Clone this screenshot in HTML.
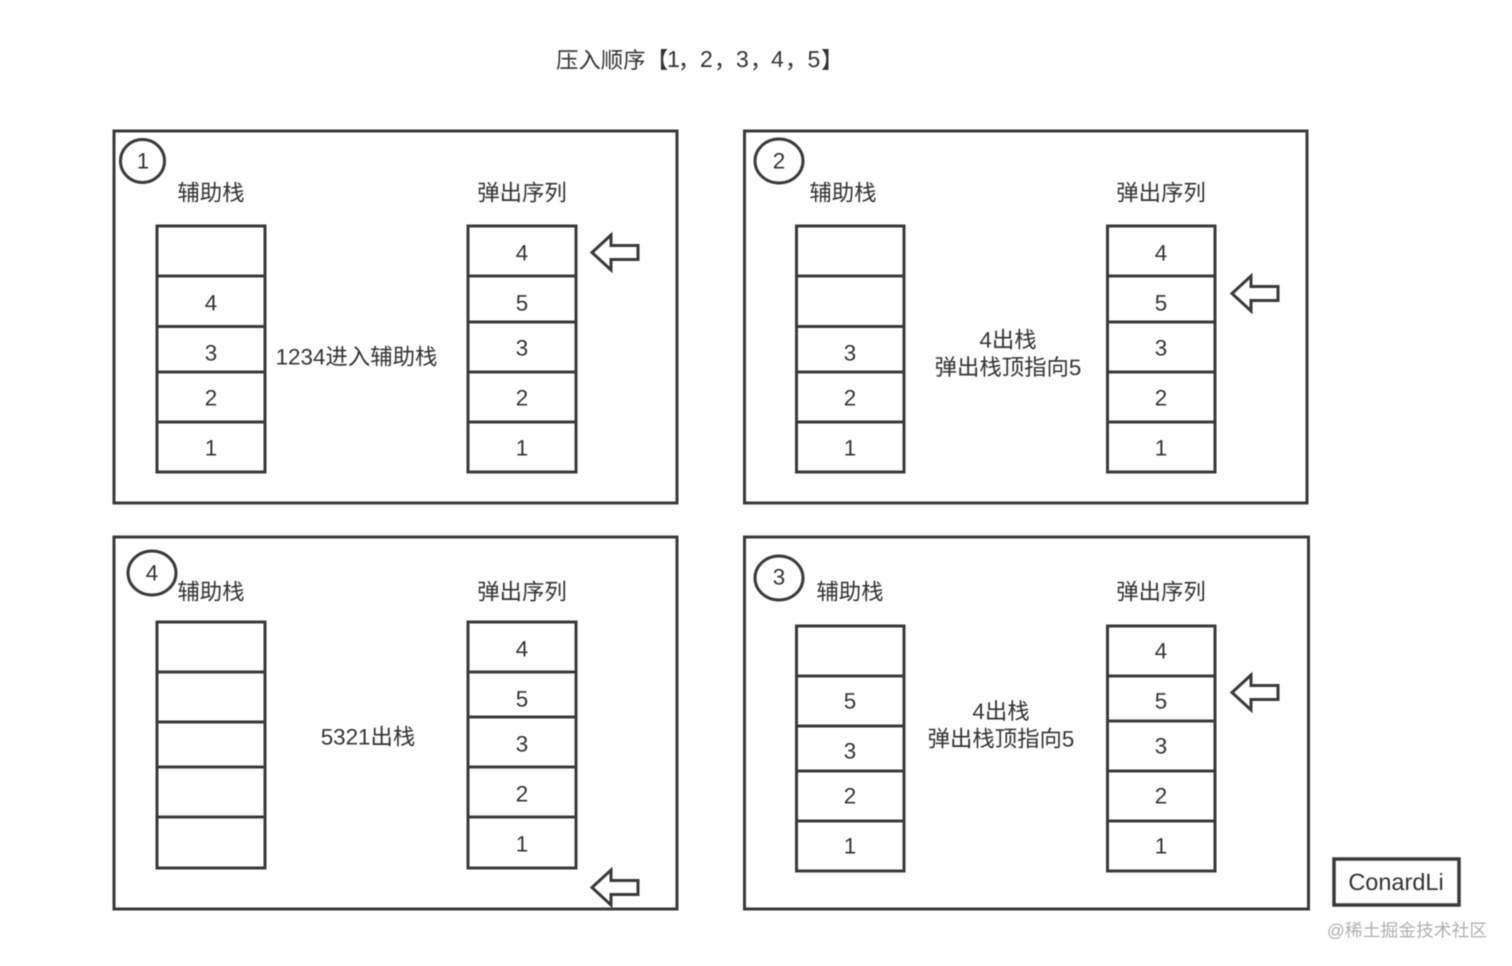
<!DOCTYPE html>
<html>
<head>
<meta charset="utf-8">
<style>
html,body{margin:0;padding:0;background:#fff;width:1512px;height:966px;overflow:hidden}
svg{display:block;filter:blur(0.45px)}
text{font-family:"Liberation Sans","Noto Sans CJK SC",sans-serif;font-size:22.4px;fill:#333;text-anchor:middle;dominant-baseline:central;text-rendering:geometricPrecision}
.t{text-anchor:start}
.c{font-family:"Noto Sans CJK SC",sans-serif}
.d{font-size:23px}
.b{fill:#fff;stroke:#3a3a3a;stroke-width:3}
.l{stroke:#3a3a3a;stroke-width:3;fill:none}
.a{fill:#fff;stroke:#3a3a3a;stroke-width:3;stroke-linejoin:miter}
</style>
</head>
<body>
<svg width="1512" height="966" viewBox="0 0 1512 966" xmlns="http://www.w3.org/2000/svg">
<text class="t c" x="556" y="59">压入顺序</text>
<text class="t c" x="646" y="59">【</text>
<text class="t d" x="667" y="59">1</text>
<text class="t c" x="678" y="59">，</text>
<text class="t d" x="700" y="59">2</text>
<text class="t c" x="714" y="59">，</text>
<text class="t d" x="736" y="59">3</text>
<text class="t c" x="750" y="59">，</text>
<text class="t d" x="771" y="59">4</text>
<text class="t c" x="785" y="59">，</text>
<text class="t d" x="807.500" y="59">5</text>
<text class="t c" x="821" y="59">】</text>

<rect class="b" x="114" y="131" width="563" height="372"/>
<rect class="b" x="744.500" y="131" width="562.500" height="372"/>
<rect class="b" x="114" y="537" width="563" height="372"/>
<rect class="b" x="744.500" y="537" width="564" height="372"/>

<ellipse class="b" cx="142.500" cy="161" rx="22" ry="21.500"/><text x="143" y="161">1</text>
<ellipse class="b" cx="779" cy="161" rx="24" ry="22"/><text x="779" y="161">2</text>
<ellipse class="b" cx="152" cy="573" rx="24" ry="22"/><text x="152" y="573">4</text>
<ellipse class="b" cx="779" cy="578" rx="24" ry="22"/><text x="779" y="577">3</text>

<text x="211" y="193">辅助栈</text><text x="522" y="193">弹出序列</text>
<text x="843" y="193">辅助栈</text><text x="1161" y="193">弹出序列</text>
<text x="211" y="592">辅助栈</text><text x="522" y="592">弹出序列</text>
<text x="850" y="592">辅助栈</text><text x="1161" y="592">弹出序列</text>

<!-- Panel 1 -->
<rect class="b" x="157" y="226" width="108" height="246"/>
<path class="l" d="M157 276H265M157 326.500H265M157 372H265M157 422H265"/>
<text x="211" y="303">4</text><text x="211" y="353">3</text><text x="211" y="398">2</text><text x="211" y="448">1</text>
<rect class="b" x="468" y="226" width="108" height="246"/>
<path class="l" d="M468 276H576M468 322H576M468 372H576M468 422H576"/>
<text x="522" y="253">4</text><text x="522" y="303">5</text><text x="522" y="348">3</text><text x="522" y="398">2</text><text x="522" y="448">1</text>
<text x="356.500" y="357">1234进入辅助栈</text>

<!-- Panel 2 -->
<rect class="b" x="796.500" y="226" width="107.500" height="246"/>
<path class="l" d="M796.500 276H904M796.500 326.500H904M796.500 372H904M796.500 422H904"/>
<text x="850" y="353">3</text><text x="850" y="398">2</text><text x="850" y="448">1</text>
<rect class="b" x="1107.500" y="226" width="107.500" height="246"/>
<path class="l" d="M1107.500 276H1215M1107.500 322H1215M1107.500 372H1215M1107.500 422H1215"/>
<text x="1161" y="253">4</text><text x="1161" y="303">5</text><text x="1161" y="348">3</text><text x="1161" y="398">2</text><text x="1161" y="448">1</text>
<text x="1008" y="340">4出栈</text><text x="1008" y="367.500">弹出栈顶指向5</text>

<!-- Panel 4 -->
<rect class="b" x="157" y="622" width="108" height="246"/>
<path class="l" d="M157 672H265M157 722H265M157 767H265M157 817H265"/>
<rect class="b" x="468" y="622" width="108" height="246"/>
<path class="l" d="M468 672H576M468 717H576M468 767H576M468 817H576"/>
<text x="522" y="649">4</text><text x="522" y="699">5</text><text x="522" y="744">3</text><text x="522" y="794">2</text><text x="522" y="844">1</text>
<text x="368" y="737">5321出栈</text>

<!-- Panel 3 -->
<rect class="b" x="796.500" y="626" width="107.500" height="245"/>
<path class="l" d="M796.500 676H904M796.500 726H904M796.500 771H904M796.500 821H904"/>
<text x="850" y="701">5</text><text x="850" y="751">3</text><text x="850" y="796">2</text><text x="850" y="846">1</text>
<rect class="b" x="1107.500" y="626" width="107.500" height="245"/>
<path class="l" d="M1107.500 676H1215M1107.500 721H1215M1107.500 771H1215M1107.500 821H1215"/>
<text x="1161" y="651">4</text><text x="1161" y="701">5</text><text x="1161" y="746">3</text><text x="1161" y="796">2</text><text x="1161" y="846">1</text>
<text x="1001" y="711.500">4出栈</text><text x="1001" y="739">弹出栈顶指向5</text>

<!-- Arrows -->
<path class="a" d="M592 252.500L611 235V245.500H638V259.500H611V270Z"/>
<path class="a" d="M1232 293.500L1251 276V286.500H1278V300.500H1251V311Z"/>
<path class="a" d="M1232 692.500L1251 675V685.500H1278V699.500H1251V710Z"/>
<path class="a" d="M592 887.500L611 870V880.500H638V894.500H611V905Z"/>

<!-- Signature -->
<rect class="b" x="1334" y="859" width="125" height="46" style="stroke-width:3.500"/>
<text x="1396" y="882" style="font-size:23.500px">ConardLi</text>
<text x="1407" y="930.500" style="font-size:17.800px;fill:#b0b0b0">@稀土掘金技术社区</text>
</svg>
</body>
</html>
